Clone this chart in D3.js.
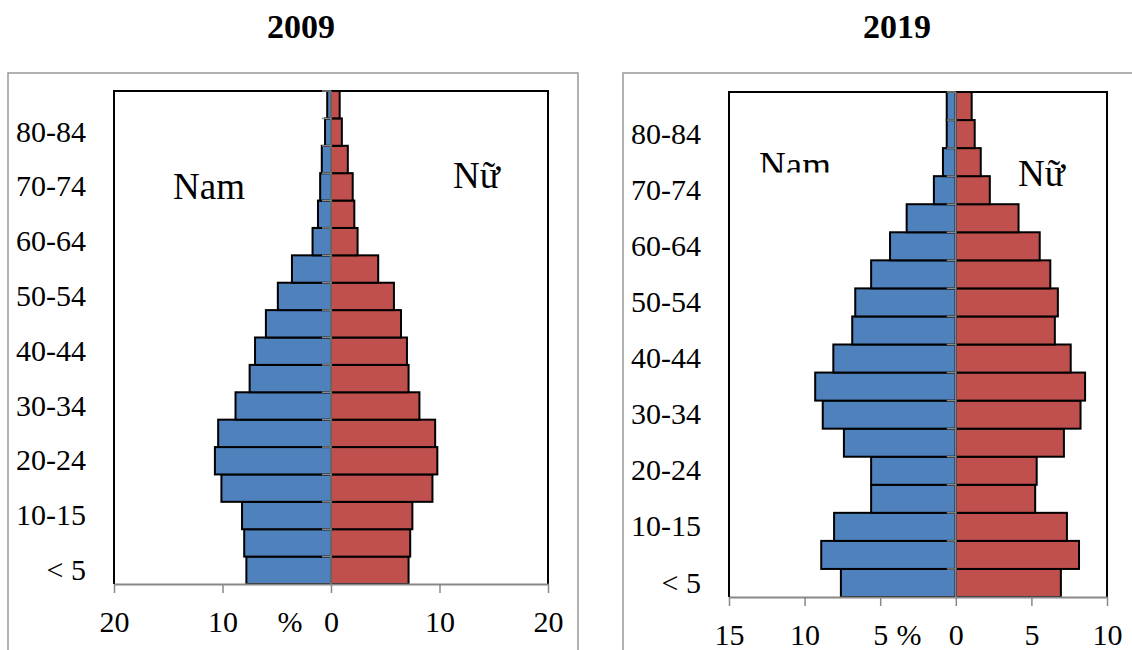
<!DOCTYPE html>
<html>
<head>
<meta charset="utf-8">
<script src="https://cdn.jsdelivr.net/npm/d3@7"></script>
<style>
  body { margin: 0; background: #fff; }
  svg, svg text { font-family: "Liberation Serif", "Times New Roman", serif; }
  svg { display: block; }
</style>
</head>
<body>
<svg id="chart" width="1132" height="650"></svg>
<script>
// age groups, bottom to top
const ageGroups = ["< 5", "5-9", "10-15", "15-19", "20-24", "25-29", "30-34", "35-39", "40-44",
  "45-49", "50-54", "55-59", "60-64", "65-69", "70-74", "75-79", "80-84", "85+"];

const male2009 = [7.8, 8.0, 8.2, 10.1, 10.7, 10.4, 8.8, 7.5, 7.0, 6.0, 4.9, 3.6, 1.7, 1.2, 1.0, 0.85, 0.55, 0.35];
const female2009 = [7.15, 7.3, 7.5, 9.35, 9.8, 9.6, 8.15, 7.15, 7.0, 6.45, 5.8, 4.35, 2.45, 2.15, 2.0, 1.55, 1.0, 0.8];

const male2019 = [7.6, 8.9, 8.05, 5.6, 5.6, 7.4, 8.8, 9.3, 8.1, 6.85, 6.65, 5.6, 4.35, 3.25, 1.45, 0.85, 0.6, 0.6];
const female2019 = [6.95, 8.15, 7.35, 5.25, 5.35, 7.15, 8.25, 8.55, 7.6, 6.55, 6.75, 6.25, 5.55, 4.15, 2.25, 1.65, 1.25, 1.05];

const ticks2009 = [-20, -10, 0, 10, 20];
const ticks2019 = [-15, -10, -5, 0, 5, 10];

const FONT = "'Liberation Serif', 'Times New Roman', serif";
const svg = d3.select("#chart");

function drawPyramid(cfg) {
  const g = svg.append("g");

  // outer frame
  g.append("rect")
    .attr("x", cfg.frame[0]).attr("y", cfg.frame[1])
    .attr("width", cfg.frame[2]).attr("height", cfg.frame[3])
    .attr("fill", "none").attr("stroke", "#999").attr("stroke-width", 1.5);

  // title
  g.append("text")
    .attr("x", cfg.titleX).attr("y", 38)
    .attr("text-anchor", "middle")
    .style("font-size", "34px").style("font-weight", "bold")
    .text(cfg.title);

  const x = d3.scaleLinear().domain(cfg.domain).range([cfg.left, cfg.right]);
  const y = d3.scaleBand().domain(ageGroups).range([cfg.bottom, cfg.top]).padding(0);

  // plot border (left, top, right)
  g.append("path")
    .attr("d", `M${cfg.left},${cfg.bottom}V${cfg.top}H${cfg.right}V${cfg.bottom}`)
    .attr("fill", "none").attr("stroke", "#000").attr("stroke-width", 2);

  const male = cfg.male.map((v, i) => ({ age: ageGroups[i], v }));
  const female = cfg.female.map((v, i) => ({ age: ageGroups[i], v }));

  g.append("g").selectAll("rect")
    .data(male).join("rect")
    .attr("x", d => x(-d.v))
    .attr("y", d => y(d.age))
    .attr("width", d => x(0) - x(-d.v))
    .attr("height", y.bandwidth())
    .attr("fill", "#4F81BD")
    .attr("stroke", "#000").attr("stroke-width", 2);

  g.append("g").selectAll("rect")
    .data(female).join("rect")
    .attr("x", x(0))
    .attr("y", d => y(d.age))
    .attr("width", d => x(d.v) - x(0))
    .attr("height", y.bandwidth())
    .attr("fill", "#C0504D")
    .attr("stroke", "#000").attr("stroke-width", 2);

  // zero axis with small ticks at band boundaries
  g.append("line")
    .attr("x1", x(0)).attr("x2", x(0))
    .attr("y1", cfg.top).attr("y2", cfg.bottom)
    .attr("stroke", "#888").attr("stroke-width", 1.5);
  g.append("g").selectAll("line")
    .data(ageGroups).join("line")
    .attr("x1", x(0) - 9).attr("x2", x(0))
    .attr("y1", d => y(d)).attr("y2", d => y(d))
    .attr("stroke", "#888").attr("stroke-width", 1.5);

  // x axis
  const xAxis = g.append("g")
    .attr("transform", `translate(0,${cfg.bottom})`)
    .call(d3.axisBottom(x).tickValues(cfg.ticks).tickSize(9).tickPadding(18)
      .tickFormat(d => Math.abs(d)).tickSizeOuter(0))
    .attr("font-family", FONT).attr("font-size", 30);
  xAxis.select(".domain").attr("stroke", "#888").attr("stroke-width", 2);
  xAxis.selectAll(".tick line").attr("stroke", "#888").attr("stroke-width", 1.5);
  xAxis.selectAll(".tick text").attr("fill", "#000");

  g.append("text")
    .attr("x", cfg.pctX).attr("y", cfg.bottom + 48)
    .attr("text-anchor", "middle")
    .style("font-size", "30px")
    .text("%");

  // age labels, every second group
  const yAxis = g.append("g")
    .attr("transform", `translate(${cfg.left},0)`)
    .call(d3.axisLeft(y).tickSize(0).tickPadding(28)
      .tickFormat((d, i) => (i % 2 === 0 ? d : "")))
    .attr("font-family", FONT).attr("font-size", 30);
  yAxis.select(".domain").remove();
  yAxis.selectAll(".tick text").attr("fill", "#000");

  // sex labels
  const namText = g.append("text")
    .attr("x", cfg.namPos[0]).attr("y", cfg.namPos[1])
    .style("font-size", "37px")
    .text("Nam");
  if (cfg.namClip) {
    const id = "clip" + cfg.title;
    svg.append("clipPath").attr("id", id)
      .append("rect").attr("x", 0).attr("y", 0).attr("width", 1132).attr("height", cfg.namClip);
    namText.attr("clip-path", `url(#${id})`);
  }
  g.append("text")
    .attr("x", cfg.nuPos[0]).attr("y", cfg.nuPos[1])
    .style("font-size", "37px")
    .text("Nữ");
}

drawPyramid({
  title: "2009", titleX: 301,
  frame: [8, 73, 570, 620],
  left: 114, right: 548, top: 91, bottom: 584,
  domain: [-20, 20], ticks: ticks2009,
  male: male2009, female: female2009,
  pctX: 290,
  namPos: [173, 199], nuPos: [453, 188]
});

drawPyramid({
  title: "2019", titleX: 897,
  frame: [623, 73, 560, 620],
  left: 729, right: 1107, top: 92, bottom: 597,
  domain: [-15, 10], ticks: ticks2019,
  male: male2019, female: female2019,
  pctX: 909,
  namPos: [759, 178], namClip: 172.5, nuPos: [1018, 186]
});
</script>
</body>
</html>
